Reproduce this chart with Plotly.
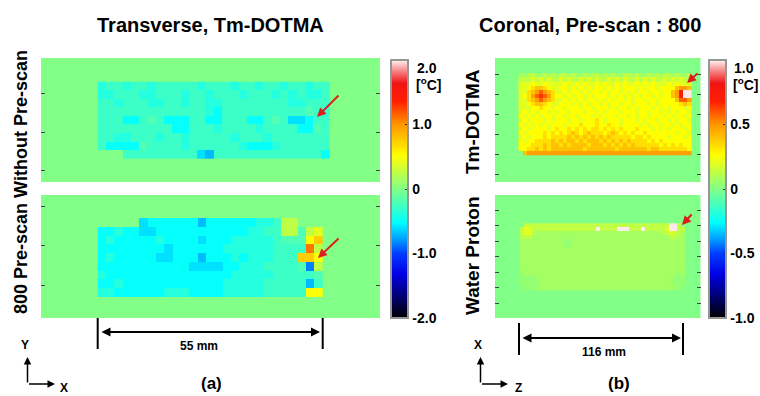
import plotly.graph_objects as go

W, H = 760, 396
FONT = "Liberation Sans, Arial, Helvetica, sans-serif"

# ---------------- data (temperature change, degC) ----------------
# Each character is one image cell; LEVELS_* give the value of each code.
LEVELS_A = {'0': 0.0, '1': -0.2, '2': -0.28, '3': -0.38, '4': -0.5, '5': -0.6,
            '6': -0.7, 'c': -0.7, 'b': -0.85,
            'g': 0.25, 'h': 0.4, 'y': 0.5, 'o': 0.75, 'r': 1.1}
LEVELS_B = {'0': 0.0, 'e': 0.04, '1': 0.07, '2': 0.13, '3': 0.2, '4': 0.26,
            '5': 0.33, '6': 0.4, '7': 0.48, '8': 0.58, 'a': 0.65, '9': 0.72,
            'w': 0.99, 'b': 0.99}

# (a) transverse, Tm-DOTMA, without pre-scan
A_TOP = [
    "3223223222 2232223223 22322322",
    "3322233222 3223222322 23232332",
    "2232223322 3223322222 22233222",
    "2222222222 2223422222 22222122",
    "2224421244 4224422244 21255422",
    "2222222224 4222322223 22224412",
    "2233222322 3222223222 32222222",
    "2444412222 3222222344 43222222",
    "0002222222 2256222222 22222224",
]
# (a) transverse, Tm-DOTMA, 800 pre-scan
A_BOT = [
    "0000054444 4464444443 32gg000",
    "4434455444 4444444433 22gg1gh",
    "4344444344 4454443333 32111yo",
    "4444444454 4444433333 32222rg",
    "4344444554 4464443433 3222ooy",
    "4444444444 4555544333 22221bg",
    "3444444444 4444443333 3222221",
    "4434444444 4444433333 22222c2",
    "3344444433 3444433333 22222yy",
]
# (b) coronal, pre-scan 800, Tm-DOTMA
B_TOP = [
    "1122112121 2212112122 1212112212 1121212212 112",
    "2223232322 3232232323 2232323223 2323223232 322",
    "3334334333 3433434334 3433434334 3434333434 333",
    "3345665433 4434343434 4343434443 4344344446 776",
    "3356787653 3434434344 3434434343 4434434467 9bb",
    "34578a8754 4343443434 4434343434 3443434467 9bb",
    "3356787653 3434343443 4343443434 4344344446 887",
    "3345665433 4443434344 3434434434 4434344444 565",
    "3334454434 4344434434 4434344343 4443434344 434",
    "3434344343 4434443443 4344434443 4434434343 443",
    "4343434434 4344344434 3444344343 4434443434 434",
    "3434443434 4434434445 4344434443 4344344343 443",
    "4343434344 4344454445 4454434444 3434434434 344",
    "3434444345 4454545455 4545454445 4443434344 434",
    "4344445454 5456545655 5456545454 4544444443 443",
    "3434445455 5565656565 6565555545 5454444344 434",
    "4344555565 6566565666 5656565655 5545454444 444",
    "4445556566 5656666566 6565656565 5555545454 544",
    "4455656566 6666665666 6666566666 6656655555 554",
    "0677777777 7777777777 7777777777 7777777777 777",
]
# (b) coronal, pre-scan 800, water proton
B_BOT = [
    "0222222222 2222222222 2222222222 2222222ww2 0",
    "2332222222 222222222w 2222www222 w222223ww2 2",
    "2332111111 1111111111 1111111111 1111122322 1",
    "2221111111 1111111111 1111111111 1111111221 1",
    "1111111111 1ee1111111 1111111111 1111111111 1",
    "1111111111 1ee1111111 1111111111 1111111111 1",
    "1111111111 1111111111 1111111111 1111111111 1",
    "1111111111 1111111111 1111111111 1111111111 1",
    "1111111111 1111111111 1111111111 1111111111 1",
    "1111111111 1111111111 1111111111 1111111111 1",
    "1111111111 1111111111 1111111111 1111111111 1",
    "1111111111 1111111111 1111111111 1111111111 1",
    "e111111111 1111111111 1111111111 111111111e 1",
    "eeee111111 1111111111 1111111111 11111111ee e",
    "eeeee11111 1111111111 1111111111 1111111eee e",
    "eeeee11111 1111111111 1111111111 11111111ee e",
    "0eeee11111 1111111111 1111111111 11111111ee 0",
]

CB_A_TICKS = [-2, -1, 0, 1]
CB_A_TEXT = ["-2.0", "-1.0", "0", "1.0"]
CB_B_TICKS = [-1, -0.5, 0, 0.5]
CB_B_TEXT = ["-1.0", "-0.5", "0", "0.5"]
CB_A_TOP, CB_B_TOP = "2.0", "1.0"
UNIT = "[<sup>o</sup>C]"


def decode(rows, levels):
    return [[levels[ch] for ch in row.replace(' ', '')] for row in rows]


# ---------------- styling / layout ----------------
COLORSCALE = [
    [0.0, "rgb(0,0,0)"], [0.08, "rgb(0,0,110)"], [0.17, "rgb(0,0,230)"],
    [0.25, "rgb(0,60,255)"], [0.30, "rgb(0,150,255)"], [0.37, "rgb(0,255,255)"],
    [0.5, "rgb(130,255,135)"], [0.63, "rgb(255,255,0)"], [0.75, "rgb(255,150,0)"],
    [0.84, "rgb(255,30,0)"], [0.91, "rgb(240,20,20)"], [0.95, "rgb(245,115,115)"],
    [1.0, "rgb(255,245,245)"],
]
BG = "rgb(130,255,135)"

# panels: pixel box (x0, x1, y0, y1), inner cell grid (left, top, dx, dy) in panel px
PANELS = [
    dict(rows=A_TOP, lv=LEVELS_A, ca="coloraxis", box=(41, 380, 58, 182),
         grid=(56.7, 23.7, 8.3, 8.5), ticks=[35, 74, 112]),
    dict(rows=A_BOT, lv=LEVELS_A, ca="coloraxis", box=(41, 380, 195, 318),
         grid=(56.7, 23.0, 8.33, 8.8), ticks=[11, 50, 90]),
    dict(rows=B_TOP, lv=LEVELS_B, ca="coloraxis2", box=(495, 700.5, 58, 182),
         grid=(23.5, 15.3, 4.03, 4.1), ticks=[16, 36, 56, 76, 96, 116]),
    dict(rows=B_BOT, lv=LEVELS_B, ca="coloraxis2", box=(495, 700.5, 195, 318),
         grid=(25.0, 28.3, 4.02, 3.92), ticks=[15, 30.5, 46, 61.5, 77, 92.5, 108]),
]

fig = go.Figure()
layout_axes = {}
for i, p in enumerate(PANELS, start=1):
    x0, x1, y0, y1 = p["box"]
    w, h = x1 - x0, y1 - y0
    gl, gt, dx, dy = p["grid"]
    xn = "x" if i == 1 else f"x{i}"
    yn = "y" if i == 1 else f"y{i}"
    fig.add_trace(go.Heatmap(
        z=decode(p["rows"], p["lv"]), x0=gl + dx / 2, dx=dx, y0=gt + dy / 2, dy=dy,
        coloraxis=p["ca"], xaxis=xn, yaxis=yn, hoverinfo="skip"))
    layout_axes["xaxis" if i == 1 else f"xaxis{i}"] = dict(
        domain=[x0 / W, x1 / W], range=[0, w], anchor=yn, visible=False,
        fixedrange=True)
    layout_axes["yaxis" if i == 1 else f"yaxis{i}"] = dict(
        domain=[1 - y1 / H, 1 - y0 / H], range=[h, 0], anchor=xn,
        showgrid=False, zeroline=False, showticklabels=False, showline=False,
        ticks="inside", ticklen=4, tickwidth=1, tickcolor="#444",
        tickvals=p["ticks"], mirror="ticks", fixedrange=True)


def cbar(x_left, tickvals, ticktext):
    return dict(x=x_left / W, xanchor="left", xpad=0, y=1 - 189 / H, yanchor="middle",
                len=258 / H, lenmode="fraction", ypad=0, thickness=17,
                outlinewidth=2, outlinecolor="rgb(150,150,150)",
                tickvals=tickvals, ticktext=ticktext, ticks="inside", ticklen=4,
                tickcolor="#333",
                tickfont=dict(family=FONT, size=14, color="black", weight="bold"))


def txt(s, x, y, size, angle=0, xanchor="center"):
    return dict(text=f"<b>{s}</b>", x=x / W, y=1 - y / H, xref="paper", yref="paper",
                showarrow=False, textangle=angle, xanchor=xanchor, yanchor="middle",
                font=dict(family=FONT, size=size, color="black"))


def arrow(tx, ty, hx, hy, color="black", width=1.5, head=2, side="end", size=1.0):
    return dict(text="", x=hx / W, y=1 - hy / H, xref="paper", yref="paper",
                ax=tx - hx, ay=ty - hy, axref="pixel", ayref="pixel", showarrow=True,
                arrowhead=head, arrowsize=size, arrowwidth=width, arrowcolor=color,
                arrowside=side, standoff=0, startstandoff=0)


def line(xa, ya, xb, yb, width=2):
    return dict(type="line", xref="paper", yref="paper", x0=xa / W, y0=1 - ya / H,
                x1=xb / W, y1=1 - yb / H, line=dict(color="black", width=width))


annotations = [
    txt("Transverse, Tm-DOTMA", 210, 25, 20),
    txt("Coronal, Pre-scan : 800", 590, 25, 20),
    txt("800 Pre-scan Without Pre-scan", 21, 182, 18, angle=-90),
    txt("Tm-DOTMA", 472, 122, 19, angle=-90),
    txt("Water Proton", 472, 256, 19, angle=-90),
    txt(CB_A_TOP, 415, 68, 14, xanchor="left"),
    txt(UNIT, 414, 84, 14, xanchor="left"),
    txt(CB_B_TOP, 732, 68, 14, xanchor="left"),
    txt(UNIT, 731, 84, 14, xanchor="left"),
    txt("55 mm", 199, 346, 12),
    txt("116 mm", 604, 352, 12),
    txt("(a)", 212, 383, 17),
    txt("(b)", 619, 383, 17),
    txt("Y", 25, 345, 12),
    txt("X", 64, 388, 12),
    txt("X", 478, 345, 12),
    txt("Z", 518, 388, 12),
    # scale bars
    arrow(100, 332, 320, 332, side="end+start", width=2, size=0.9),
    arrow(521, 338, 681, 338, side="end+start", width=2, size=0.9),
    # axis icons
    arrow(27.5, 384, 27.5, 357, width=1.5),
    arrow(27.5, 384, 55, 384, width=1.5),
    arrow(480.5, 384, 480.5, 357, width=1.5),
    arrow(480.5, 384, 508, 384, width=1.5),
    # red markers
    arrow(340, 94, 317, 117, color="rgb(220,30,30)", width=2, size=0.9),
    arrow(340, 237, 318, 258, color="rgb(220,30,30)", width=2, size=0.9),
    arrow(699, 72, 687, 83, color="rgb(220,30,30)", width=2, size=0.9),
    arrow(693, 213, 682, 225, color="rgb(220,30,30)", width=2, size=0.9),
]

shapes = [
    line(97.7, 318, 97.7, 349), line(322.7, 318, 322.7, 349),
    line(519, 323, 519, 355), line(683, 323, 683, 355),
]

fig.update_layout(
    width=W, height=H, autosize=False,
    margin=dict(l=0, r=0, t=0, b=0),
    paper_bgcolor="white", plot_bgcolor=BG, showlegend=False,
    coloraxis=dict(cmin=-2, cmax=2, colorscale=COLORSCALE,
                   colorbar=cbar(391, CB_A_TICKS, CB_A_TEXT)),
    coloraxis2=dict(cmin=-1, cmax=1, colorscale=COLORSCALE,
                    colorbar=cbar(709, CB_B_TICKS, CB_B_TEXT)),
    annotations=annotations, shapes=shapes,
    **layout_axes,
)

fig.write_html("out.html")
